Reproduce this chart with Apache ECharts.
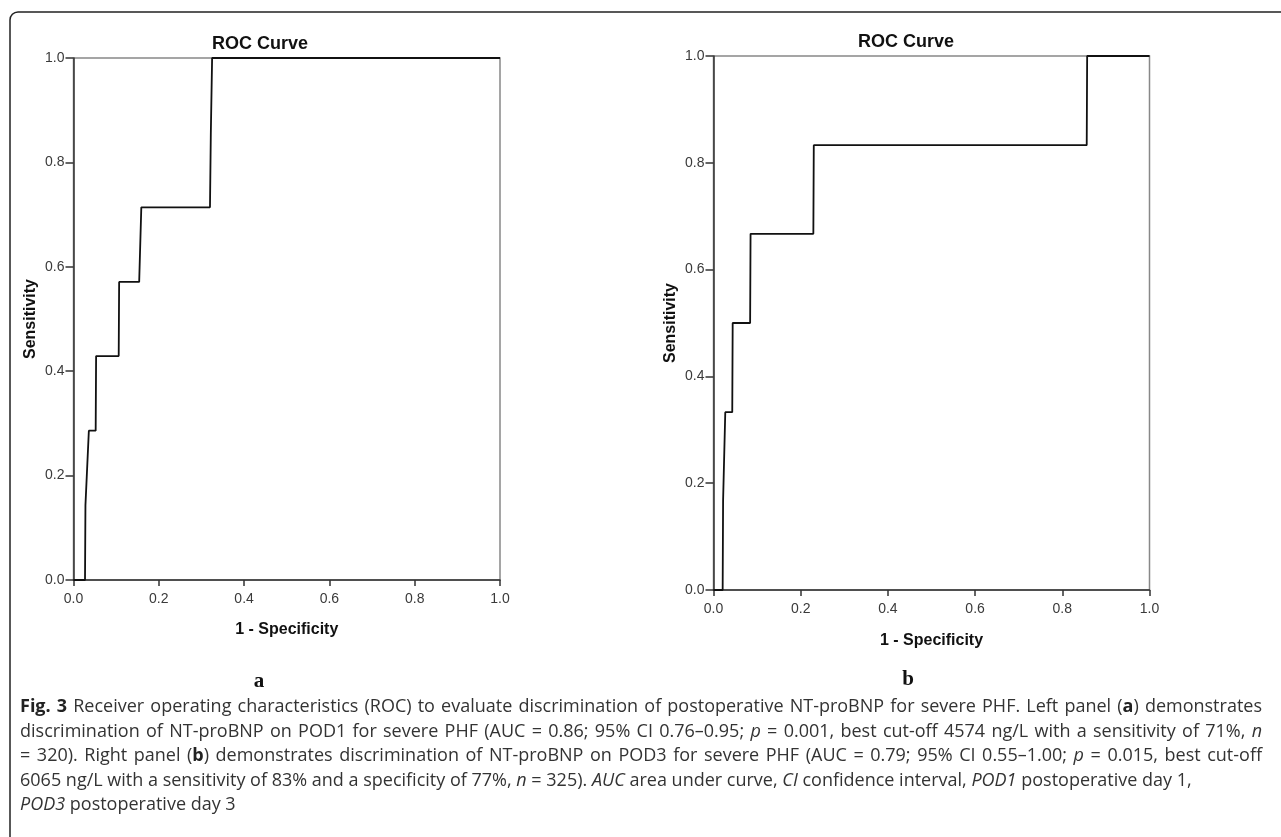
<!DOCTYPE html>
<html>
<head>
<meta charset="utf-8">
<script src="https://cdn.jsdelivr.net/npm/echarts@6/dist/echarts.min.js"></script>
<style>
  body { margin: 0; background: #fff; }
  #wrap { position: relative; width: 1281px; height: 837px; overflow: hidden; }
  #main { position: absolute; left: 0; top: 0; width: 1281px; height: 837px; }
  #caption {
    position: absolute; left: 20px; top: 693px; width: 1242px;
    font-family: "Open Sans", sans-serif; font-size: 18px; line-height: 24.5px; color: #333;
  }
  #caption .j { text-align: justify; text-align-last: justify; }
  #caption b { color: #222; }
</style>
</head>
<body>
<div id="wrap">
  <div id="main"></div>
  <div id="caption">
    <div class="j"><b>Fig. 3</b> Receiver operating characteristics (ROC) to evaluate discrimination of postoperative NT-proBNP for severe PHF. Left panel (<b>a</b>) demonstrates</div>
    <div class="j">discrimination of NT-proBNP on POD1 for severe PHF (AUC = 0.86; 95% CI 0.76–0.95; <i>p</i> = 0.001, best cut-off 4574 ng/L with a sensitivity of 71%, <i>n</i></div>
    <div class="j">= 320). Right panel (<b>b</b>) demonstrates discrimination of NT-proBNP on POD3 for severe PHF (AUC = 0.79; 95% CI 0.55–1.00; <i>p</i> = 0.015, best cut-off</div>
    <div>6065 ng/L with a sensitivity of 83% and a specificity of 77%, <i>n</i> = 325). <i>AUC</i> area under curve, <i>CI</i> confidence interval, <i>POD1</i> postoperative day 1,</div>
    <div><i>POD3</i> postoperative day 3</div>
  </div>
</div>
<script>
// ROC points: [1 - specificity, sensitivity]
var rocPOD1 = [
  [0, 0], [0.027, 0], [0.028, 0.143], [0.031, 0.143], [0.036, 0.286],
  [0.052, 0.286], [0.053, 0.429], [0.106, 0.429], [0.107, 0.571],
  [0.154, 0.571], [0.159, 0.714], [0.32, 0.714], [0.322, 0.857],
  [0.324, 0.857], [0.325, 1], [1, 1]
];
var rocPOD3 = [
  [0, 0], [0.021, 0], [0.022, 0.167], [0.026, 0.167], [0.027, 0.333],
  [0.043, 0.333], [0.044, 0.5], [0.084, 0.5], [0.085, 0.667],
  [0.229, 0.667], [0.23, 0.833], [0.856, 0.833], [0.857, 1], [1, 1]
];
var panelTitles = ["ROC Curve", "ROC Curve"];
var panelLetters = ["a", "b"];
var xName = "1 - Specificity";
var yName = "Sensitivity";

var myChart = echarts.init(document.getElementById("main"));

var sans = "Liberation Sans, Arial, sans-serif";
var labelFont = { fontFamily: sans, fontSize: 14, color: "#3a3a3a" };
var nameFont = { fontFamily: sans, fontSize: 16, fontWeight: "bold", color: "#111" };

function xAxisFor(i) {
  return {
    type: "value", gridIndex: i, min: 0, max: 1, interval: 0.2,
    name: xName, nameLocation: "middle", nameGap: i === 0 ? 42 : 43, nameTextStyle: nameFont,
    axisLine: { lineStyle: { color: "#333", width: 1.5 } },
    axisTick: { length: 6, lineStyle: { color: "#333", width: 1.5 } },
    axisLabel: Object.assign({ margin: 12, formatter: function (v) { return v.toFixed(1); } }, labelFont),
    splitLine: { show: false }
  };
}
function yAxisFor(i) {
  return {
    type: "value", gridIndex: i, min: 0, max: 1, interval: 0.2,
    name: yName, nameLocation: "middle", nameGap: 35, nameRotate: 90, nameTextStyle: nameFont,
    axisLine: { lineStyle: { color: "#333", width: 1.5 } },
    axisTick: { length: 8, lineStyle: { color: "#333", width: 1.5 } },
    axisLabel: Object.assign({ margin: 9, formatter: function (v) { return v.toFixed(1); } }, labelFont),
    splitLine: { show: false }
  };
}

var option = {
  animation: false,
  backgroundColor: "#fff",
  title: [
    { text: panelTitles[0], left: 255, top: 30, textAlign: "center",
      textStyle: { fontFamily: sans, fontSize: 18, fontWeight: "bold", color: "#111" } },
    { text: panelTitles[1], left: 901, top: 28, textAlign: "center",
      textStyle: { fontFamily: sans, fontSize: 18, fontWeight: "bold", color: "#111" } }
  ],
  grid: [
    { left: 73.5, top: 58, width: 426.5, height: 522, show: true, borderColor: "#888", borderWidth: 1.5 },
    { left: 713.5, top: 56, width: 436, height: 534, show: true, borderColor: "#888", borderWidth: 1.5 }
  ],
  xAxis: [xAxisFor(0), xAxisFor(1)],
  yAxis: [yAxisFor(0), yAxisFor(1)],
  series: [
    { type: "line", xAxisIndex: 0, yAxisIndex: 0, data: rocPOD1, showSymbol: false,
      lineStyle: { color: "#111", width: 1.8 } },
    { type: "line", xAxisIndex: 1, yAxisIndex: 1, data: rocPOD3, showSymbol: false,
      lineStyle: { color: "#111", width: 1.8 } }
  ],
  graphic: [
    // rounded frame of the figure, cut off on the right and bottom
    { type: "rect", shape: { x: 10, y: 12, width: 1320, height: 900, r: 8 },
      style: { fill: null, stroke: "#222", lineWidth: 1.5 }, silent: true },
    { type: "text", x: 259, y: 682,
      style: { text: panelLetters[0], font: "bold 21px 'Liberation Serif', serif", fill: "#111", align: "center", verticalAlign: "middle" } },
    { type: "text", x: 908, y: 680,
      style: { text: panelLetters[1], font: "bold 21px 'Liberation Serif', serif", fill: "#111", align: "center", verticalAlign: "middle" } }
  ]
};

myChart.setOption(option);
</script>
</body>
</html>
